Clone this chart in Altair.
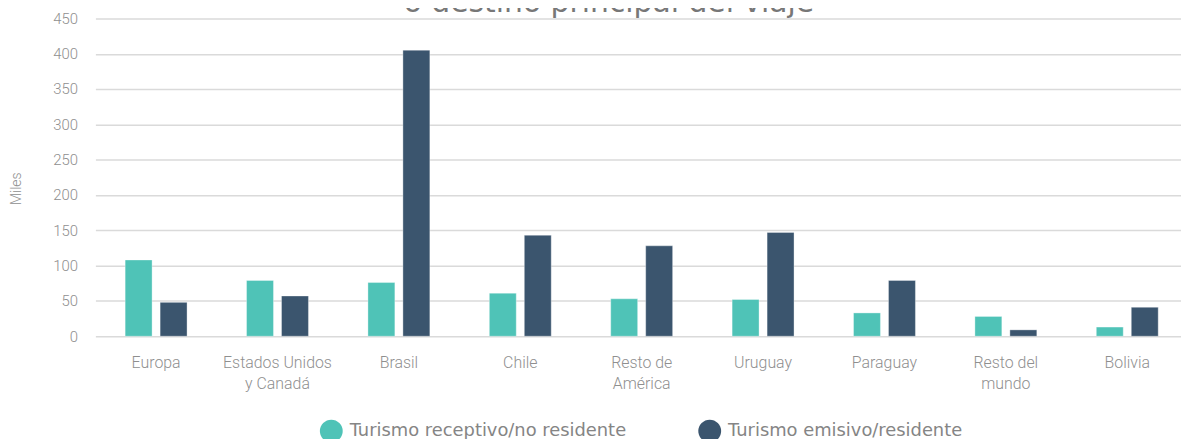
import altair as alt
import pandas as pd

categories = ["Europa", "Estados Unidos\ny Canadá", "Brasil", "Chile", "Resto de\nAmérica",
              "Uruguay", "Paraguay", "Resto del\nmundo", "Bolivia"]
receptivo = [108, 79, 76, 61, 53, 52, 33, 28, 13]
emisivo = [48, 57, 405, 143, 128, 147, 79, 9, 41]
series = ["Turismo receptivo/no residente", "Turismo emisivo/residente"]
colors = ["#4fc3b7", "#3b556e"]
y_ticks = [0, 50, 100, 150, 200, 250, 300, 350, 400, 450]
title_text = ["o destino principal del viaje"]

rows = []
for c, r, e in zip(categories, receptivo, emisivo):
    rows.append({"cat": c, "serie": series[0], "valor": r})
    rows.append({"cat": c, "serie": series[1], "valor": e})
df = pd.DataFrame(rows)

gray = "#8f8f8f"

bars = alt.Chart(df).mark_bar(stroke="white", strokeWidth=1, strokeOpacity=0.35).encode(
    x=alt.X(
        "cat:N", sort=categories,
        scale=alt.Scale(range=[0, 1100], paddingInner=0.49, paddingOuter=0.245),
        axis=alt.Axis(title=None, labelExpr="split(datum.label, '\\n')", labelAngle=0,
                      labelFont="Roboto", labelFontSize=16, labelFontWeight=300,
                      labelColor=gray, labelLineHeight=22, labelPadding=18, ticks=False,
                      domain=False, grid=False, labelLimit=0),
    ),
    xOffset=alt.XOffset("serie:N", sort=series, scale=alt.Scale(paddingInner=0.23)),
    y=alt.Y(
        "valor:Q", scale=alt.Scale(domain=[0, 450]),
        axis=alt.Axis(values=y_ticks, title="Miles", labelFont="Roboto", labelFontSize=15,
                      labelFontWeight=300, labelColor=gray, labelPadding=18, domain=False,
                      ticks=False, gridColor="#dadada", gridWidth=1.5,
                      titleFont="Roboto", titleFontSize=14, titleColor=gray,
                      titleFontWeight=300, titleAngle=270, titleX=-79, titleY=171,
                      titleAlign="center", titleBaseline="middle"),
    ),
    color=alt.Color(
        "serie:N", sort=series, scale=alt.Scale(domain=series, range=colors),
        legend=alt.Legend(orient="none", legendX=226, legendY=404, direction="horizontal",
                          title=None, symbolType="circle", symbolSize=529,
                          symbolStrokeWidth=0, labelFont="DejaVu Sans", labelFontSize=18,
                          labelColor="#858585", labelLimit=0, labelOffset=7,
                          columnPadding=72, padding=0),
    ),
)

title = alt.Chart(pd.DataFrame({"t": title_text})).mark_text(
    font="DejaVu Sans", fontSize=30, color="#777777", align="center", baseline="alphabetic"
).encode(x=alt.value(517), y=alt.value(-6), text="t:N")

chart = alt.layer(bars, title).properties(
    width=1093, height=320,
    autosize=alt.AutoSizeParams(type="none"),
    padding={"left": 88, "top": 9, "right": 0, "bottom": 102},
).configure_view(stroke=None)

chart.save("out.html", embed_options={"renderer": "svg", "actions": False})
